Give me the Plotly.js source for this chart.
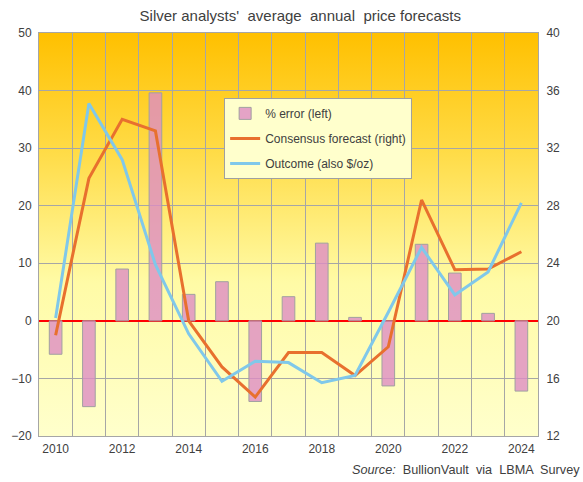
<!DOCTYPE html>
<html>
<head>
<meta charset="utf-8">
<script src="https://cdn.plot.ly/plotly-3.0.1.min.js"></script>
<style>
html,body{margin:0;padding:0;background:#fff;}
#chart{width:583px;height:482px;}
</style>
</head>
<body>
<div id="chart"></div>
<script>
const years = [2010, 2011, 2012, 2013, 2014, 2015, 2016, 2017, 2018, 2019, 2020, 2021, 2022, 2023, 2024];
const errorPct = [-5.8, -14.9, 9.0, 39.6, 4.6, 6.8, -14.0, 4.2, 13.5, 0.6, -11.3, 13.3, 8.3, 1.3, -12.2];
const consensus = [19.0, 29.9, 34.0, 33.2, 20.0, 16.8, 14.7, 17.8, 17.8, 16.2, 18.2, 28.4, 23.55, 23.6, 24.8];
const outcome = [20.2, 35.1, 31.2, 23.9, 19.1, 15.8, 17.2, 17.1, 15.7, 16.2, 20.6, 25.1, 21.8, 23.4, 28.2];
const xTickVals = [2010, 2012, 2014, 2016, 2018, 2020, 2022, 2024];
const xTickText = ['2010', '2012', '2014', '2016', '2018', '2020', '2022', '2024'];
const names = ['% error (left)', 'Consensus forecast (right)', 'Outcome (also $/oz)'];

const FONT = 'Liberation Sans, Arial, sans-serif';
const TXT = '#404040';
const GRID = '#A6A6A6';

const gradSvg = '<svg xmlns="http://www.w3.org/2000/svg" width="10" height="100" preserveAspectRatio="none">' +
  '<defs><linearGradient id="g" x1="0" y1="0" x2="0" y2="1">' +
  '<stop offset="0" stop-color="#FFC000"/>' +
  '<stop offset="0.3" stop-color="#FFDC48"/>' +
  '<stop offset="0.62" stop-color="#FFFBA6"/>' +
  '<stop offset="1" stop-color="#FFFFCC"/>' +
  '</linearGradient></defs><rect width="10" height="100" fill="url(#g)"/></svg>';
const gradUri = 'data:image/svg+xml;base64,' + btoa(gradSvg);

const traces = [
  {
    type: 'bar', x: years, y: errorPct, name: names[0], yaxis: 'y',
    marker: {color: 'rgba(221,140,196,0.8)', line: {color: '#A0A0A0', width: 1}},
    legendgroup: 'a', hoverinfo: 'skip'
  },
  {
    type: 'scatter', mode: 'lines', x: years, y: consensus, name: names[1], yaxis: 'y2',
    line: {color: '#E8702E', width: 3}, legendgroup: 'b'
  },
  {
    type: 'scatter', mode: 'lines', x: years, y: outcome, name: names[2], yaxis: 'y2',
    line: {color: '#80C8EA', width: 3}, legendgroup: 'c'
  }
];

const layout = {
  width: 583, height: 482,
  margin: {l: 39, r: 45, t: 33, b: 46, pad: 0},
  paper_bgcolor: '#FFFFFF',
  plot_bgcolor: 'rgba(0,0,0,0)',
  font: {family: FONT, size: 12, color: TXT},
  title: {
    text: "Silver analysts'  average  annual  price forecasts",
    font: {family: FONT, size: 15, color: TXT},
    x: 0.515, xanchor: 'center', y: 0.968, yanchor: 'middle'
  },
  bargap: 0.62,
  showlegend: true,
  legend: {
    x: 0.371, y: 0.839, xanchor: 'left', yanchor: 'top',
    bgcolor: '#FFFFCC', bordercolor: '#A0A0A0', borderwidth: 1,
    font: {family: FONT, size: 12, color: TXT},
    traceorder: 'grouped', tracegroupgap: 6, itemwidth: 30
  },
  xaxis: {
    range: [2009.5, 2024.5], tickvals: xTickVals, ticktext: xTickText,
    showgrid: false, zeroline: false,
    showline: true, mirror: true, linecolor: GRID, linewidth: 1,
    ticks: 'outside', ticklen: 2, tickcolor: 'rgba(0,0,0,0)',
    tickfont: {family: FONT, size: 12, color: TXT},
    minor: {tick0: 2009.5, dtick: 1, showgrid: true, gridcolor: GRID, gridwidth: 1, ticks: ''}
  },
  yaxis: {
    range: [-20, 50], dtick: 10, showgrid: true, gridcolor: GRID, gridwidth: 1,
    zeroline: true, zerolinecolor: '#FF0000', zerolinewidth: 2.5,
    showline: true, mirror: false, linecolor: GRID, linewidth: 1,
    ticks: 'outside', ticklen: 4, tickcolor: 'rgba(0,0,0,0)',
    tickfont: {family: FONT, size: 12, color: TXT}
  },
  yaxis2: {
    range: [12, 40], dtick: 4, overlaying: 'y', side: 'right',
    showgrid: false, zeroline: false,
    showline: true, linecolor: GRID, linewidth: 1,
    ticks: 'outside', ticklen: 5, tickcolor: 'rgba(0,0,0,0)',
    tickfont: {family: FONT, size: 12, color: TXT}
  },
  images: [{
    source: gradUri, xref: 'paper', yref: 'paper', x: 0, y: 1, sizex: 1, sizey: 1,
    xanchor: 'left', yanchor: 'top', sizing: 'stretch', layer: 'below'
  }],
  annotations: [{
    text: '<i>Source:</i>  BullionVault  via  LBMA  Survey',
    xref: 'paper', yref: 'paper', x: 1.088, y: -0.084, xanchor: 'right', yanchor: 'middle',
    showarrow: false, font: {family: FONT, size: 12.7, color: TXT}
  }]
};

Plotly.newPlot('chart', traces, layout, {displayModeBar: false, staticPlot: true});
</script>
</body>
</html>
